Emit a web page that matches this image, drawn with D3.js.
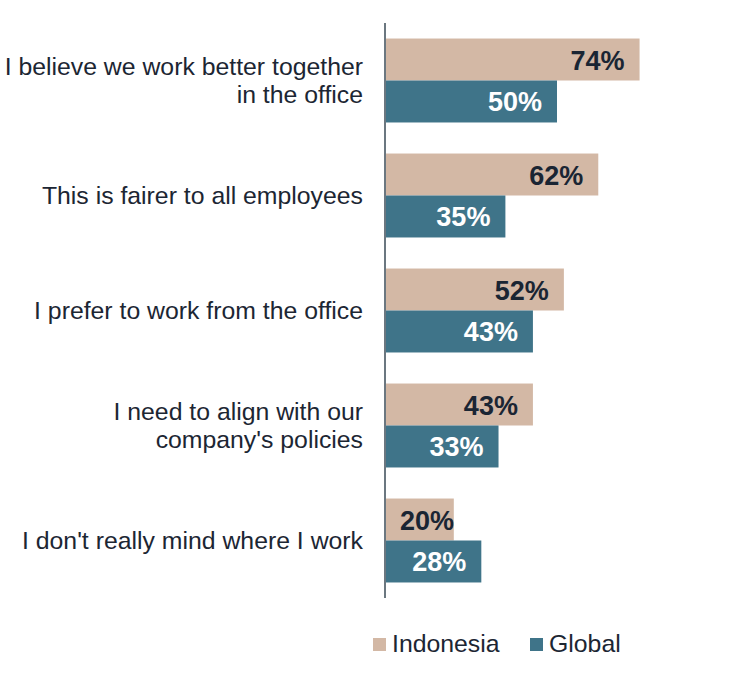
<!DOCTYPE html>
<html>
<head>
<meta charset="utf-8">
<script src="https://cdn.jsdelivr.net/npm/d3@7"></script>
<style>
  body { margin: 0; background: #fff; }
  svg { display: block; font-family: "Liberation Sans", Arial, sans-serif; }
</style>
</head>
<body>
<svg id="chart" width="749" height="678"></svg>
<script>
// reasons, one label line per array entry
var categories = [
    ["I believe we work better together", "in the office"],
    ["This is fairer to all employees"],
    ["I prefer to work from the office"],
    ["I need to align with our", "company's policies"],
    ["I don't really mind where I work"]
]
var indonesia = [74, 62, 52, 43, 20]
var global = [50, 35, 43, 33, 28]
var seriesNames = ["Indonesia", "Global"]
var colors = ["#d3b8a5", "#3f7489"]
var labelColors = ["#1a2533", "#ffffff"]

var svg = d3.select("#chart")

var x = d3.scaleLinear().domain([0, 100]).range([385, 729])
var y = d3.scaleBand().domain(d3.range(categories.length)).range([23, 598])
    .paddingInner(0.27).paddingOuter(0.135)
var sub = d3.scaleBand().domain([0, 1]).range([0, y.bandwidth()])

var rows = categories.map(function(c, i) {
    return {i: i, lines: c, vals: [indonesia[i], global[i]]}
})

var groups = svg.selectAll("g.row").data(rows).enter().append("g")
    .attr("class", "row")
    .attr("transform", function(d) { return "translate(0," + y(d.i) + ")" })

groups.selectAll("rect").data(function(d) { return d.vals }).enter().append("rect")
    .attr("x", x(0))
    .attr("y", function(d, j) { return sub(j) })
    .attr("width", function(d) { return x(d) - x(0) })
    .attr("height", sub.bandwidth())
    .attr("fill", function(d, j) { return colors[j] })

groups.selectAll("text.val").data(function(d) { return d.vals }).enter().append("text")
    .attr("class", "val")
    .attr("x", function(d) { return Math.max(x(d) - 15, x(0) + 69) })
    .attr("y", function(d, j) { return sub(j) + sub.bandwidth() / 2 + 10 })
    .attr("text-anchor", "end")
    .style("font-size", "27px")
    .style("font-weight", "bold")
    .attr("fill", function(d, j) { return labelColors[j] })
    .text(function(d) { return d + "%" })

// category labels, centered on the pair of bars
groups.append("text")
    .attr("class", "cat")
    .attr("text-anchor", "end")
    .style("font-size", "24.8px")
    .attr("fill", "#1c2633")
    .each(function(d) {
        var n = d.lines.length
        var t = d3.select(this)
        d.lines.forEach(function(line, k) {
            t.append("tspan")
                .attr("x", 363)
                .attr("y", y.bandwidth() / 2 + 9 + (k - (n - 1) / 2) * 28)
                .text(line)
        })
    })

svg.append("line")
    .attr("x1", x(0)).attr("x2", x(0))
    .attr("y1", 23).attr("y2", 598)
    .attr("stroke", "#6b7780")
    .attr("stroke-width", 2)

// legend
var legendX = [373, 530]
var legend = svg.selectAll("g.legend").data(seriesNames).enter().append("g")
    .attr("class", "legend")
    .attr("transform", function(d, i) { return "translate(" + legendX[i] + ",638)" })
legend.append("rect")
    .attr("width", 13).attr("height", 13)
    .attr("fill", function(d, i) { return colors[i] })
legend.append("text")
    .attr("x", 19).attr("y", 14)
    .style("font-size", "24.8px")
    .attr("fill", "#1c2633")
    .text(function(d) { return d })
</script>
</body>
</html>
